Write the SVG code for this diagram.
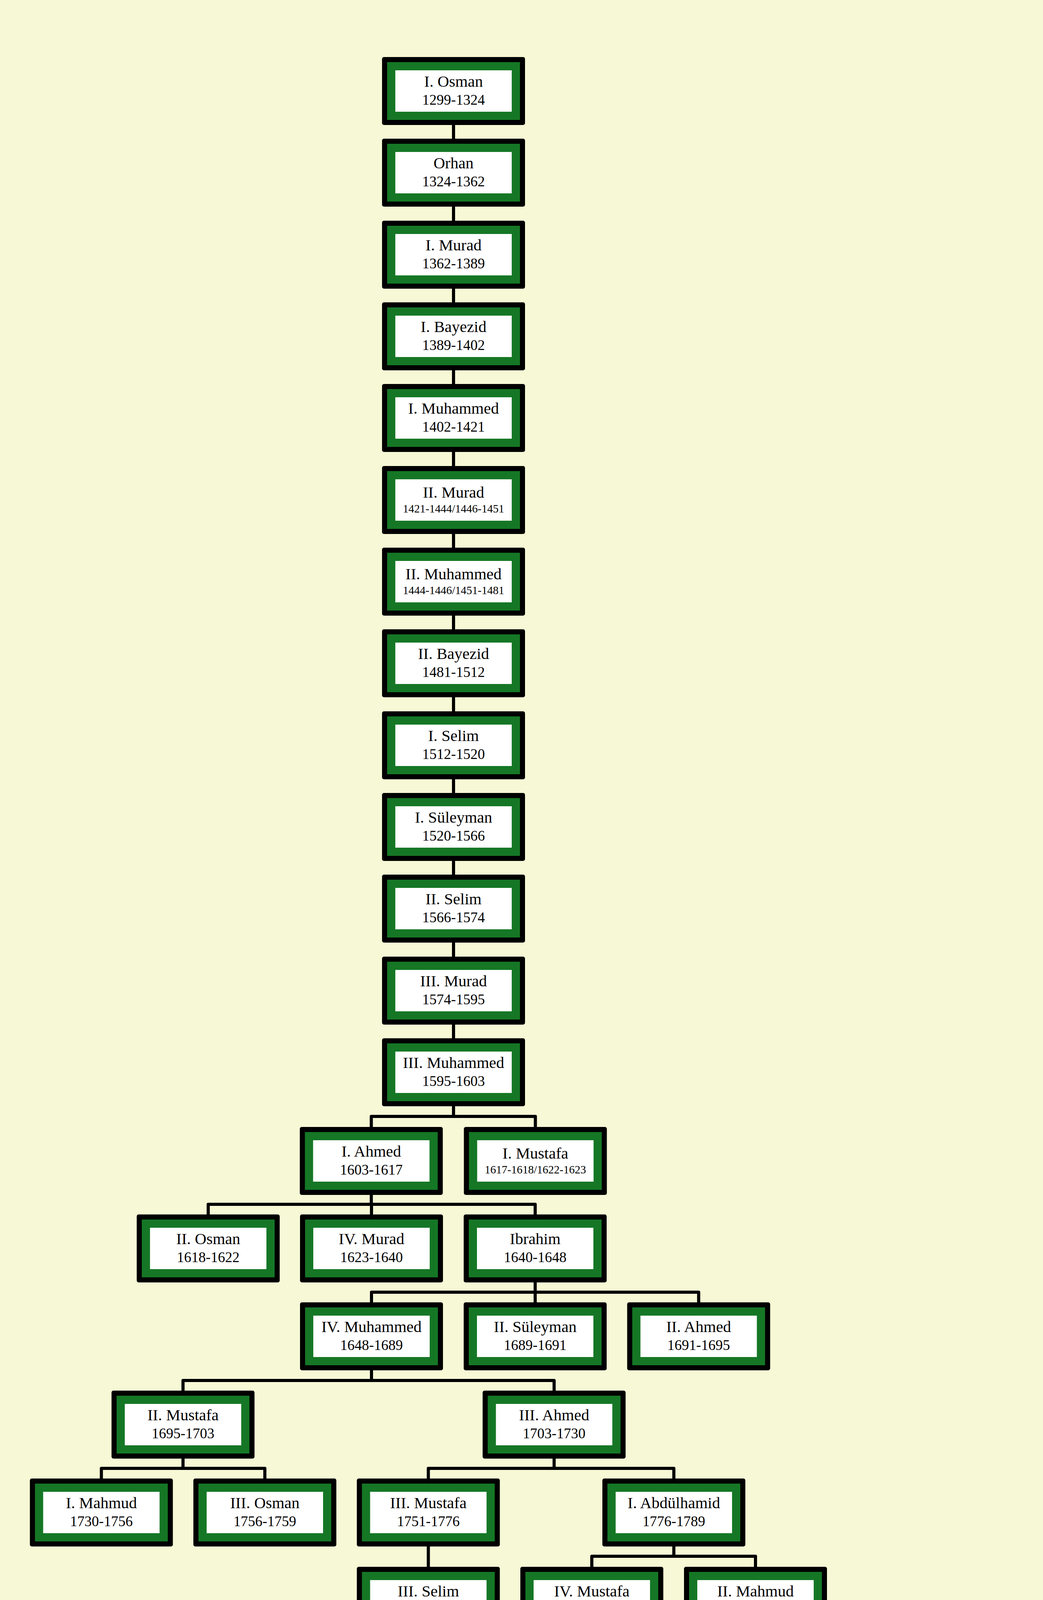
<svg xmlns="http://www.w3.org/2000/svg" xmlns:xlink="http://www.w3.org/1999/xlink" width="2670" height="4788" viewBox="0 0 2670 4788">
<style>
.n{font-family:"Liberation Serif","Times New Roman",serif;font-size:41px;fill:#000;text-anchor:middle}
.d{font-family:"Liberation Serif","Times New Roman",serif;font-size:37px;fill:#000;text-anchor:middle}
.s{font-family:"Liberation Serif","Times New Roman",serif;font-size:29px;fill:#000;text-anchor:middle}
.c{fill:none;stroke:#000;stroke-width:8;stroke-linejoin:round}
</style>
<defs>
<g id="box">
<rect x="-183" y="0" width="366" height="174" rx="5" fill="#000"/>
<rect x="-170" y="13" width="340" height="148" fill="#157725"/>
<rect x="-149" y="34" width="298" height="106" fill="#fff"/>
</g>
</defs>
<rect x="0" y="0" width="2670" height="4788" fill="#F7F8D5"/>
<g id="connectors">
<path class="c" d="M1161 320V355M1161 529V565M1161 739V774M1161 948V983M1161 1157V1193M1161 1367V1402M1161 1576V1611M1161 1785V1821M1161 1995V2030M1161 2204V2239M1161 2413V2449M1161 2623V2658"/>
<path class="c" d="M1161 2832V2858M950.5 2885V2858H1370.5V2885"/>
<path class="c" d="M950.5 3059V3083M533 3109V3083H1370V3109M951 3083V3109"/>
<path class="c" d="M1370 3283V3308M951 3334V3308H1788.5V3334M1370 3308V3334"/>
<path class="c" d="M951 3508V3534M468.5 3560V3534H1418.5V3560"/>
<path class="c" d="M468.5 3734V3759M259.5 3785V3759H678V3785"/>
<path class="c" d="M1418.5 3734V3759M1096.5 3785V3759H1725V3785"/>
<path class="c" d="M1096.5 3959V4011"/>
<path class="c" d="M1725 3959V3984M1515 4011V3984H1934V4011"/>
<path class="c" d="M1934 4185V4211M1725 4236V4211H2143V4236"/>
<path class="c" d="M1725 4410V4435M1112 4462V4435H2352V4462M1531 4435V4462M1933 4435V4462"/>
</g>
<g id="osman1" transform="translate(1161,146)"><use xlink:href="#box"/><text class="n" y="76">I. Osman</text><text class="d" y="122">1299-1324</text></g>
<g id="orhan" transform="translate(1161,355)"><use xlink:href="#box"/><text class="n" y="76">Orhan</text><text class="d" y="122">1324-1362</text></g>
<g id="murad1" transform="translate(1161,565)"><use xlink:href="#box"/><text class="n" y="76">I. Murad</text><text class="d" y="122">1362-1389</text></g>
<g id="bayezid1" transform="translate(1161,774)"><use xlink:href="#box"/><text class="n" y="76">I. Bayezid</text><text class="d" y="122">1389-1402</text></g>
<g id="muhammed1" transform="translate(1161,983)"><use xlink:href="#box"/><text class="n" y="76">I. Muhammed</text><text class="d" y="122">1402-1421</text></g>
<g id="murad2" transform="translate(1161,1193)"><use xlink:href="#box"/><text class="n" y="81">II. Murad</text><text class="s" y="119">1421-1444/1446-1451</text></g>
<g id="muhammed2" transform="translate(1161,1402)"><use xlink:href="#box"/><text class="n" y="81">II. Muhammed</text><text class="s" y="119">1444-1446/1451-1481</text></g>
<g id="bayezid2" transform="translate(1161,1611)"><use xlink:href="#box"/><text class="n" y="76">II. Bayezid</text><text class="d" y="122">1481-1512</text></g>
<g id="selim1" transform="translate(1161,1821)"><use xlink:href="#box"/><text class="n" y="76">I. Selim</text><text class="d" y="122">1512-1520</text></g>
<g id="suleyman1" transform="translate(1161,2030)"><use xlink:href="#box"/><text class="n" y="76">I. Süleyman</text><text class="d" y="122">1520-1566</text></g>
<g id="selim2" transform="translate(1161,2239)"><use xlink:href="#box"/><text class="n" y="76">II. Selim</text><text class="d" y="122">1566-1574</text></g>
<g id="murad3" transform="translate(1161,2449)"><use xlink:href="#box"/><text class="n" y="76">III. Murad</text><text class="d" y="122">1574-1595</text></g>
<g id="muhammed3" transform="translate(1161,2658)"><use xlink:href="#box"/><text class="n" y="76">III. Muhammed</text><text class="d" y="122">1595-1603</text></g>
<g id="ahmed1" transform="translate(950.5,2885)"><use xlink:href="#box"/><text class="n" y="76">I. Ahmed</text><text class="d" y="122">1603-1617</text></g>
<g id="mustafa1" transform="translate(1370.5,2885)"><use xlink:href="#box"/><text class="n" y="81">I. Mustafa</text><text class="s" y="119">1617-1618/1622-1623</text></g>
<g id="osman2" transform="translate(533,3109)"><use xlink:href="#box"/><text class="n" y="76">II. Osman</text><text class="d" y="122">1618-1622</text></g>
<g id="murad4" transform="translate(951,3109)"><use xlink:href="#box"/><text class="n" y="76">IV. Murad</text><text class="d" y="122">1623-1640</text></g>
<g id="ibrahim" transform="translate(1370,3109)"><use xlink:href="#box"/><text class="n" y="76">Ibrahim</text><text class="d" y="122">1640-1648</text></g>
<g id="muhammed4" transform="translate(951,3334)"><use xlink:href="#box"/><text class="n" y="76">IV. Muhammed</text><text class="d" y="122">1648-1689</text></g>
<g id="suleyman2" transform="translate(1370,3334)"><use xlink:href="#box"/><text class="n" y="76">II. Süleyman</text><text class="d" y="122">1689-1691</text></g>
<g id="ahmed2" transform="translate(1788.5,3334)"><use xlink:href="#box"/><text class="n" y="76">II. Ahmed</text><text class="d" y="122">1691-1695</text></g>
<g id="mustafa2" transform="translate(468.5,3560)"><use xlink:href="#box"/><text class="n" y="76">II. Mustafa</text><text class="d" y="122">1695-1703</text></g>
<g id="ahmed3" transform="translate(1418.5,3560)"><use xlink:href="#box"/><text class="n" y="76">III. Ahmed</text><text class="d" y="122">1703-1730</text></g>
<g id="mahmud1" transform="translate(259.5,3785)"><use xlink:href="#box"/><text class="n" y="76">I. Mahmud</text><text class="d" y="122">1730-1756</text></g>
<g id="osman3" transform="translate(678,3785)"><use xlink:href="#box"/><text class="n" y="76">III. Osman</text><text class="d" y="122">1756-1759</text></g>
<g id="mustafa3" transform="translate(1096.5,3785)"><use xlink:href="#box"/><text class="n" y="76">III. Mustafa</text><text class="d" y="122">1751-1776</text></g>
<g id="abdulhamid1" transform="translate(1725,3785)"><use xlink:href="#box"/><text class="n" y="76">I. Abdülhamid</text><text class="d" y="122">1776-1789</text></g>
<g id="selim3" transform="translate(1096.5,4011)"><use xlink:href="#box"/><text class="n" y="76">III. Selim</text><text class="d" y="122">1789-1807</text></g>
<g id="mustafa4" transform="translate(1515,4011)"><use xlink:href="#box"/><text class="n" y="76">IV. Mustafa</text><text class="d" y="122">1807-1808</text></g>
<g id="mahmud2" transform="translate(1934,4011)"><use xlink:href="#box"/><text class="n" y="76">II. Mahmud</text><text class="d" y="122">1808-1839</text></g>
<g id="abdulmecid" transform="translate(1725,4236)"><use xlink:href="#box"/><text class="n" y="76">Abdülmecid</text><text class="d" y="122">1839-1861</text></g>
<g id="abdulaziz" transform="translate(2143,4236)"><use xlink:href="#box"/><text class="n" y="76">Abdülaziz</text><text class="d" y="122">1861-1876</text></g>
<g id="murad5" transform="translate(1112,4462)"><use xlink:href="#box"/><text class="n" y="76">V. Murad</text><text class="d" y="122">1876</text></g>
<g id="abdulhamid2" transform="translate(1531,4462)"><use xlink:href="#box"/><text class="n" y="76">II. Abdülhamid</text><text class="d" y="122">1876-1909</text></g>
<g id="muhammed5" transform="translate(1933,4462)"><use xlink:href="#box"/><text class="n" y="76">V. Muhammed</text><text class="d" y="122">1909-1918</text></g>
<g id="muhammed6" transform="translate(2352,4462)"><use xlink:href="#box"/><text class="n" y="76">VI. Muhammed</text><text class="d" y="122">1918-1922</text></g>
</svg>
